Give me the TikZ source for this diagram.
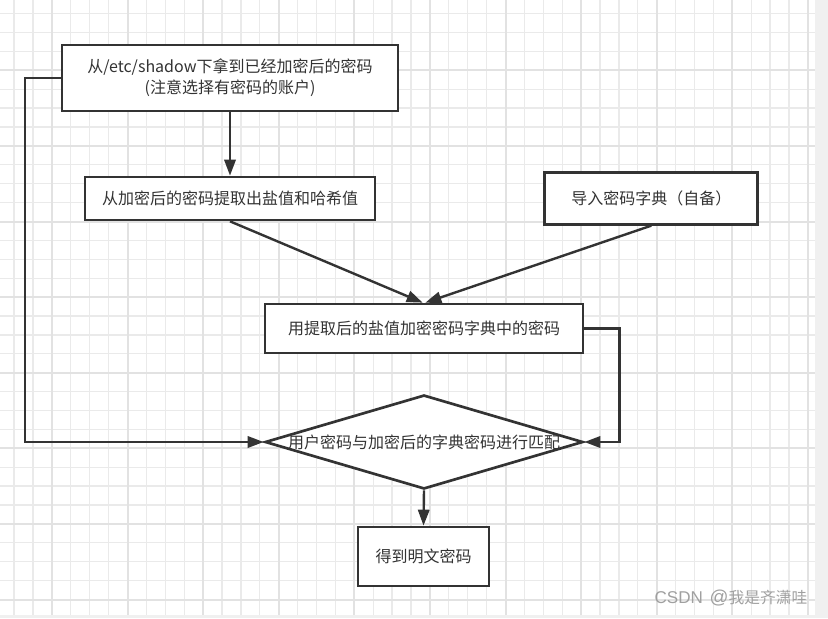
\documentclass[tikz,border=0pt]{standalone}
\usepackage{fontspec}
\setmainfont{Noto Sans CJK SC}
\newfontfamily\latinwm{Liberation Sans}
\usepackage{tikz}
\usetikzlibrary{arrows.meta, positioning, shapes.geometric, calc}

\definecolor{ink}{HTML}{333333}
\definecolor{gridminor}{HTML}{EAEAEA}
\definecolor{gridmajor}{HTML}{E2E2E2}
\definecolor{strip}{HTML}{F0F0F0}
\definecolor{mark}{HTML}{A0A0A0}

\begin{document}
\begin{tikzpicture}[
  x=0.75pt, y=-0.75pt,
  box/.style={draw=ink, line width=2pt, fill=white, text=ink, align=center,
    inner sep=0pt, font=\fontsize{12}{15.5}\selectfont},
  decision/.style={diamond, draw=ink, line width=2pt, fill=white, inner sep=0pt},
  txt/.style={text=ink, inner sep=0pt, font=\fontsize{12}{15.5}\selectfont},
  flow/.style={draw=ink, line width=1.8pt, -{Triangle[length=12pt, width=8.5pt]}},
  minor/.style={draw=gridminor, line width=1pt},
  major/.style={draw=gridmajor, line width=1.5pt}
]
  \useasboundingbox (0,0) rectangle (828,618);
  \fill[white] (0,0) rectangle (815,615);
  \fill[strip] (815,0) rectangle (828,618);
  \fill[strip] (0,615) rectangle (828,618);

  % background grid
  \foreach \k in {0,...,42} {
    \pgfmathsetmacro{\gx}{14.1 + 18.9*\k}
    \draw[minor] (\gx,0) -- (\gx,615);
  }
  \foreach \k in {0,...,31} {
    \pgfmathsetmacro{\gy}{13.6 + 18.9*\k}
    \draw[minor] (0,\gy) -- (815,\gy);
  }
  \foreach \k in {0,...,10} {
    \pgfmathsetmacro{\gx}{51.9 + 75.6*\k}
    \draw[major] (\gx,0) -- (\gx,615);
  }
  \foreach \k in {0,...,7} {
    \pgfmathsetmacro{\gy}{70.3 + 75.6*\k}
    \draw[major] (0,\gy) -- (815,\gy);
  }

  % steps
  \node[box, minimum width=252pt, minimum height=49.5pt] (shadow) at (230,78)
    {从/etc/shadow下拿到已经加密后的密码\\(注意选择有密码的账户)};
  \node[box, minimum width=217.5pt, minimum height=32.25pt] (extract) at (230,198.5)
    {从加密后的密码提取出盐值和哈希值};
  \node[box, minimum width=159.75pt, minimum height=39pt] (dict) at (651.3,198.3)
    {导入密码字典（自备）};
  \node[box, minimum width=238.5pt, minimum height=36.75pt] (encrypt) at (424,328.5)
    {用提取后的盐值加密密码字典中的密码};
  \node[decision, minimum width=238.5pt, minimum height=70.5pt] (match) at (424,442) {};
  \node[txt] (matchtext) at (match) {用户密码与加密后的字典密码进行匹配};
  \node[box, minimum width=98.25pt, minimum height=44.25pt] (plain) at (423.5,556.5)
    {得到明文密码};

  % connectors
  \coordinate (leftturn) at (25,78);
  \coordinate (rightturn) at (619.5,328.5);
  \draw[flow] (shadow.south) -- (extract.north);
  \draw[flow] (extract.south) -- ([xshift=-1pt]encrypt.north);
  \draw[flow] (dict.south) -- ([xshift=1pt]encrypt.north);
  \draw[flow] (shadow.west) -- (leftturn) |- (match.west);
  \draw[flow] (encrypt.east) -- (rightturn) |- (match.east);
  \draw[flow] (match.south) -- (plain.north);

  \node[text=mark, font=\fontsize{11.8}{13}\selectfont, anchor=east] (wm) at (812,598)
    {{\latinwm\fontsize{12.8}{13}\selectfont CSDN}\hspace{5pt}{\latinwm\fontsize{14}{13}\selectfont @}我是齐潇哇};
\end{tikzpicture}
\end{document}
